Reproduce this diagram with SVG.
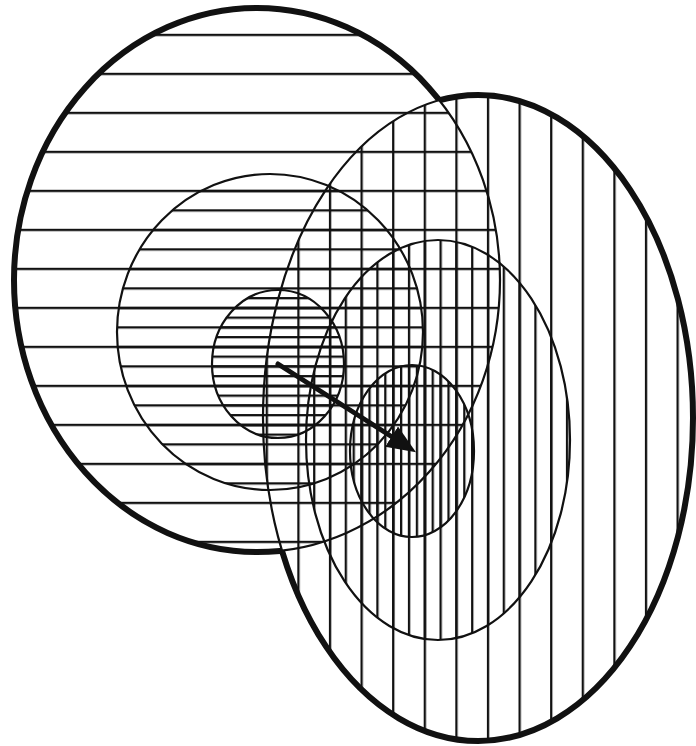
<svg xmlns="http://www.w3.org/2000/svg" width="696" height="746" viewBox="0 0 696 746">
  <style>
    .thin { fill: none; stroke: #111; stroke-width: 2.2; }
    .thick { fill: none; stroke: #111; stroke-width: 6; }
    .arrow { fill: none; stroke: #111; stroke-width: 5; stroke-linecap: round; }
  </style>
  <defs>
    <pattern id="h1" patternUnits="userSpaceOnUse" x="0" y="33.8" width="696" height="39"><rect width="696" height="2.3" fill="#111"/></pattern>
    <pattern id="h2" patternUnits="userSpaceOnUse" x="0" y="33.8" width="696" height="19.5"><rect width="696" height="2.3" fill="#111"/></pattern>
    <pattern id="h3" patternUnits="userSpaceOnUse" x="0" y="33.8" width="696" height="9.75"><rect width="696" height="2.3" fill="#111"/></pattern>
    <pattern id="v1" patternUnits="userSpaceOnUse" x="455.3" y="0" width="31.6" height="746"><rect width="2.3" height="746" fill="#111"/></pattern>
    <pattern id="v2" patternUnits="userSpaceOnUse" x="455.3" y="0" width="15.8" height="746"><rect width="2.3" height="746" fill="#111"/></pattern>
    <pattern id="v3" patternUnits="userSpaceOnUse" x="455.3" y="0" width="7.9" height="746"><rect width="2.3" height="746" fill="#111"/></pattern>
    <clipPath id="outsideB">
      <path clip-rule="evenodd" d="M0,0H696V746H0Z M263,418 a215,323 0 1,0 430,0 a215,323 0 1,0 -430,0 Z"/>
    </clipPath>
    <clipPath id="outsideA">
      <path clip-rule="evenodd" d="M0,0H696V746H0Z M15,280 a242,272 0 1,0 484,0 a242,272 0 1,0 -484,0 Z"/>
    </clipPath>
    <marker id="head" markerUnits="userSpaceOnUse" markerWidth="32" markerHeight="26" refX="10" refY="12" orient="auto">
      <path d="M0,0 L29,12 L0,24 Z" fill="#111"/>
    </marker>
  </defs>
  <rect width="696" height="746" fill="#fff"/>

  <g id="range-A">
    <ellipse cx="257" cy="280" rx="243" ry="272" fill="url(#h1)"/>
    <ellipse cx="257" cy="280" rx="243" ry="272" class="thin"/>
    <ellipse cx="257" cy="280" rx="243" ry="272" class="thick" clip-path="url(#outsideB)"/>
  </g>
  <g id="core-A">
    <ellipse cx="270" cy="332" rx="153" ry="158" fill="url(#h2)"/>
    <ellipse cx="270" cy="332" rx="153" ry="158" class="thin"/>
  </g>
  <g id="centre-A">
    <ellipse cx="278" cy="364" rx="66" ry="74" fill="url(#h3)"/>
    <ellipse cx="278" cy="364" rx="66" ry="74" class="thin"/>
  </g>

  <g id="range-B">
    <ellipse cx="478" cy="418" rx="215" ry="323" fill="url(#v1)"/>
    <ellipse cx="478" cy="418" rx="215" ry="323" class="thin"/>
    <ellipse cx="478" cy="418" rx="215" ry="323" class="thick" clip-path="url(#outsideA)"/>
  </g>
  <g id="core-B">
    <ellipse cx="438" cy="440" rx="132" ry="200" fill="url(#v2)"/>
    <ellipse cx="438" cy="440" rx="132" ry="200" class="thin"/>
  </g>
  <g id="centre-B">
    <ellipse cx="412" cy="451" rx="62" ry="86" fill="url(#v3)"/>
    <ellipse cx="412" cy="451" rx="62" ry="86" class="thin"/>
  </g>

  <g id="connectors">
    <line x1="278" y1="364" x2="400" y2="442" class="arrow" marker-end="url(#head)"/>
  </g>
</svg>
